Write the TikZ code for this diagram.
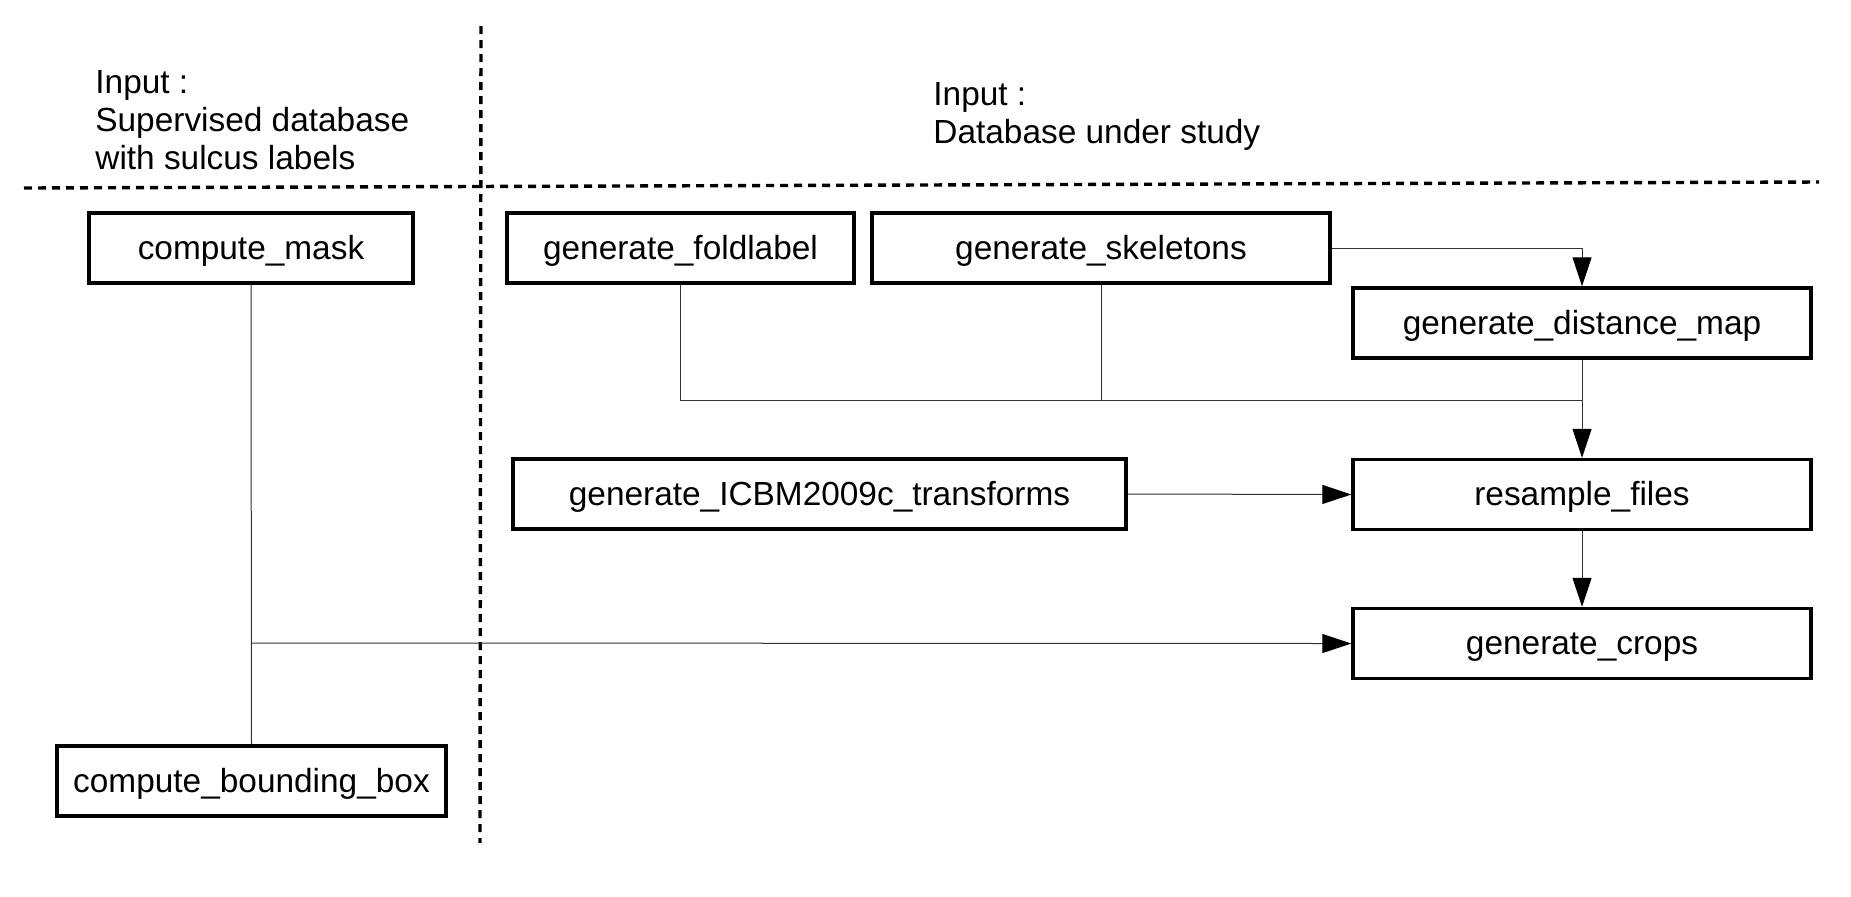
\documentclass[tikz,border=0pt]{standalone}
\usepackage{fontspec}
\setmainfont{Liberation Sans}
\usetikzlibrary{arrows.meta}
\begin{document}
\begin{tikzpicture}[x=0.5pt,y=-0.5pt,
  txt/.style={font=\fontsize{16.7}{19}\selectfont},
  stepbox/.style={draw=black,line width=1.7pt,minimum height=35pt,inner sep=0pt,
    text height=13.5pt,text depth=2.5pt,
    font=\fontsize{16.7}{19}\selectfont},
  conn/.style={draw=black!80,line width=0.5pt},
  arr/.style={conn,-{Triangle[length=14.5pt,width=9.5pt,color=black]}},
  sep/.style={draw=black,line width=1.7pt,dash pattern=on 4pt off 3pt}
]
\useasboundingbox (0,0) rectangle (1851,896);
% separators
\coordinate (vtop) at (481,26);
\coordinate (vbot) at (480,843);
\coordinate (hl) at (24,188);
\coordinate (hr) at (1819,182);
\draw[sep] (vtop) -- (vbot);
\draw[sep] (hl) -- (hr);
% headings
\node[txt,anchor=north west,inner sep=0pt,align=left] (in1) at (95,70)
  {Input :\\Supervised database\\with sulcus labels};
\node[txt,anchor=north west,inner sep=0pt,align=left] (in2) at (933,82)
  {Input :\\Database under study};
% boxes
\node[stepbox,minimum width=162pt] (cmask) at (251,248) {compute\_mask};
\node[stepbox,minimum width=194.5pt] (cbbox) at (251.5,781) {compute\_bounding\_box};
\node[stepbox,minimum width=173.5pt] (fold) at (680.5,248) {generate\_foldlabel};
\node[stepbox,minimum width=229pt] (skel) at (1101,248) {generate\_skeletons};
\node[stepbox,minimum width=229pt] (dmap) at (1582,323) {generate\_distance\_map};
\node[stepbox,minimum width=306.5pt] (icbm) at (819.5,494) {generate\_ICBM2009c\_transforms};
\node[stepbox,minimum width=229pt] (resamp) at (1582,494.5) {resample\_files};
\node[stepbox,minimum width=229pt] (crops) at (1582,643.5) {generate\_crops};
% junctions
\coordinate (jmerge) at (1582,400);
\coordinate (jmask) at (251,643);
% connectors
\draw[arr] (skel.east) -| (dmap.north);
\draw[conn] (fold.south) |- (jmerge);
\draw[conn] (skel.south) -- (skel.south |- jmerge);
\draw[arr] (dmap.south) -- (resamp.north);
\draw[arr] (icbm.east) -- (resamp.west);
\draw[arr] (resamp.south) -- (crops.north);
\draw[conn] (cmask.south) -- (cbbox.north);
\draw[arr] (jmask) -- (crops.west);
\end{tikzpicture}
\end{document}
